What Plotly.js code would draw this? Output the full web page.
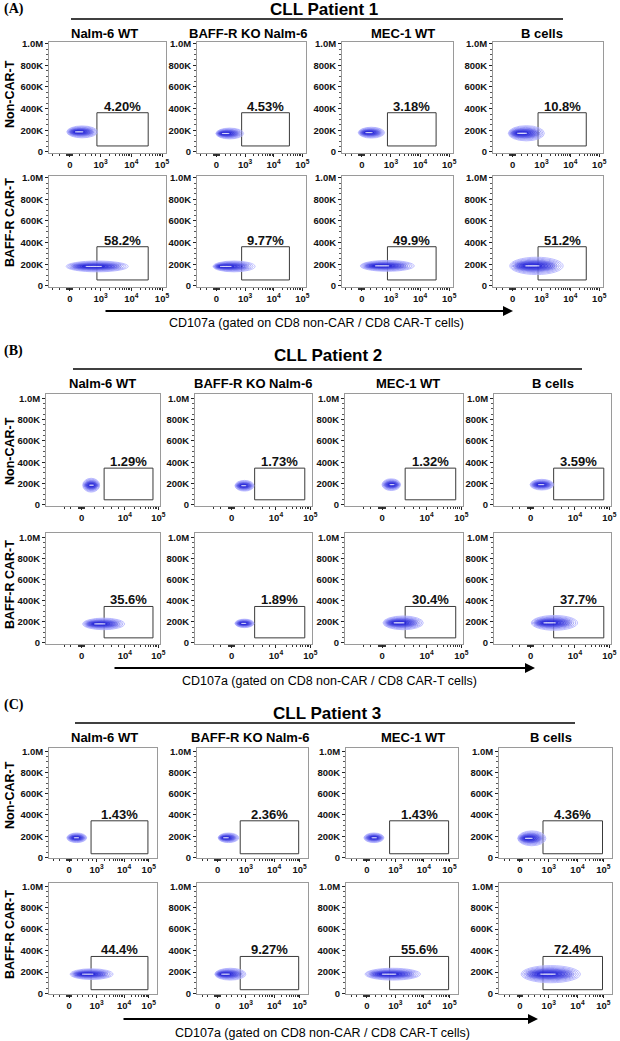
<!DOCTYPE html>
<html><head><meta charset="utf-8">
<script src="https://cdn.plot.ly/plotly-3.0.1.min.js"></script>
<style>html,body{margin:0;padding:0;background:#fff;}#chart{width:620px;height:1041px;}</style>
</head><body><div id="chart"></div>
<script>
// ================= DATA =================
const panelLetters = ['(A)', '(B)', '(C)'];
const patientTitles = ['CLL Patient 1', 'CLL Patient 2', 'CLL Patient 3'];
const targetCells = ['Nalm-6 WT', 'BAFF-R KO Nalm-6', 'MEC-1 WT', 'B cells'];
const effectorRows = ['Non-CAR-T', 'BAFF-R CAR-T'];
const axisLabel = 'CD107a (gated on CD8 non-CAR / CD8 CAR-T cells)';

const yTickVals = [0, 200000, 400000, 600000, 800000, 1000000];
const yTickText = ['0', '200K', '400K', '600K', '800K', '1.0M'];

// x axis (biexponential display units)
const xTickValsA = [0, 1, 2, 3];
const xTickTextA = ['0', '10<sup>3</sup>', '10<sup>4</sup>', '10<sup>5</sup>'];
const xTickValsB = [0, 1.35, 2.4];
const xTickTextB = ['0', '10<sup>4</sup>', '10<sup>5</sup>'];
const xTickValsC = [0, 1, 2, 2.9];
const xTickTextC = ['0', '10<sup>3</sup>', '10<sup>4</sup>', '10<sup>5</sup>'];

// gated percentages [row][column]
const pctA = [['4.20%', '4.53%', '3.18%', '10.8%'], ['58.2%', '9.77%', '49.9%', '51.2%']];
const pctB = [['1.29%', '1.73%', '1.32%', '3.59%'], ['35.6%', '1.89%', '30.4%', '37.7%']];
const pctC = [['1.43%', '2.36%', '1.43%', '4.36%'], ['44.4%', '9.27%', '55.6%', '72.4%']];

// CD107a+ gate [x0, x1, y0, y1]
const gateA = [0.88, 2.55, 55000, 362000];
const gateB = [0.70, 2.23, 48000, 345000];
const gateC = [0.80, 2.87, 35000, 345000];

// population contour: [mode x, left x, right x, centre y, half height]
const blobsA = [
  [[0.25, -0.10, 0.90, 185000, 55000], [0.25, -0.02, 0.95, 170000, 50000], [0.20, -0.12, 0.78, 178000, 50000], [0.25, -0.15, 1.10, 172000, 70000]],
  [[0.70, -0.12, 1.90, 180000, 50000], [0.20, -0.12, 1.35, 180000, 50000], [0.60, -0.05, 1.80, 185000, 50000], [0.60, -0.10, 1.75, 185000, 80000]]
];
const blobsB = [
  [[0.30, 0.03, 0.56, 185000, 65000], [0.35, 0.10, 0.68, 180000, 50000], [0.30, 0.00, 0.56, 190000, 55000], [0.30, -0.02, 0.70, 190000, 50000]],
  [[0.50, 0.03, 1.34, 180000, 55000], [0.35, 0.10, 0.68, 185000, 40000], [0.45, 0.03, 1.25, 190000, 65000], [0.50, 0.02, 1.43, 190000, 70000]]
];
const blobsC = [
  [[0.25, -0.08, 0.64, 185000, 45000], [0.25, 0.02, 0.75, 185000, 45000], [0.25, -0.10, 0.60, 185000, 45000], [0.25, -0.08, 0.90, 180000, 70000]],
  [[0.60, 0.04, 1.60, 180000, 50000], [0.20, -0.10, 1.00, 180000, 55000], [0.70, -0.06, 1.88, 180000, 55000], [0.90, 0.04, 2.10, 180000, 80000]]
];

// ================= LAYOUT GEOMETRY (pixels) =================
const W = 620, H = 1041;
const geom = [
  {letterY: 9, titleX: 324, titleY: 9, lineY: 19, lineX: [71, 563], headerY: 33, headerX: [105, 247.5, 402.5, 541.7],
   rows: [[42, 153], [176, 287]], cols: [[49, 166], [197, 306], [342, 453], [493, 603]], rowLabelY: [94, 223],
   arrowY: 311, arrowX: [104, 513], labelX: 317, labelY: 323, xr: [-0.68, 3.13], yr: [-10000, 1015000]},
  {letterY: 351, titleX: 328, titleY: 355, lineY: 369, lineX: [73, 582], headerY: 383, headerX: [102.5, 252.5, 408, 552.5],
   rows: [[394, 506], [533, 644]], cols: [[46, 160], [195, 312], [345, 463], [494, 611]], rowLabelY: [451, 585],
   arrowY: 668, arrowX: [113, 535], labelX: 329, labelY: 681, xr: [-1.12, 2.45], yr: [-10000, 1040000]},
  {letterY: 705, titleX: 327, titleY: 713, lineY: 723, lineX: [75, 575], headerY: 737, headerX: [105, 250, 412.7, 550.8],
   rows: [[748, 858], [883, 994]], cols: [[49, 157], [197, 308], [346, 458], [499, 612]], rowLabelY: [795, 935],
   arrowY: 1019, arrowX: [122, 538], labelX: 322, labelY: 1033, xr: [-0.73, 3.2], yr: [-5000, 1030000]}
];

const panelData = [
  {tv: xTickValsA, tt: xTickTextA, pct: pctA, gate: gateA, blobs: blobsA},
  {tv: xTickValsB, tt: xTickTextB, pct: pctB, gate: gateB, blobs: blobsB},
  {tv: xTickValsC, tt: xTickTextC, pct: pctC, gate: gateC, blobs: blobsC}
];

const FONT = 'Arial, "Liberation Sans", Helvetica, sans-serif';
const px = p => p / W;
const py = p => 1 - p / H;

// minor tick positions for the biexponential axis
function minorTicks(tv) {
  const m = [-0.1, -0.075, -0.05, -0.025, 0.025, 0.05, 0.075, 0.1, -0.35, -0.55];
  const first = tv[1];
  [0.3, 0.5, 0.7, 0.85].forEach(f => m.push(first * f));
  for (let i = 1; i < tv.length - 1; i++) {
    const a = tv[i], b = tv[i + 1];
    for (let k = 2; k <= 9; k++) m.push(a + (b - a) * Math.log10(k));
  }
  return m;
}

// contour ring styling
const ringSX = [1, 0.94, 0.88, 0.82, 0.76, 0.70, 0.63, 0.55, 0.46, 0.36];
const ringSY = [1, 0.88, 0.77, 0.67, 0.58, 0.50, 0.42, 0.34, 0.26, 0.18];
const cOut = [175, 175, 255], cIn = [35, 35, 215];
function ringColor(i) {
  const t = i / (ringSX.length - 1);
  const c = cOut.map((v, j) => Math.round(v + (cIn[j] - v) * t));
  return 'rgb(' + c.join(',') + ')';
}

const traces = [], shapes = [], annotations = [];
const layout = {
  width: W, height: H, margin: {l: 0, r: 0, t: 0, b: 0},
  paper_bgcolor: '#fff', plot_bgcolor: '#fff', showlegend: false,
  font: {family: FONT, color: '#000'}
};

panelData.forEach((pd, p) => {
  const g = geom[p];
  annotations.push({xref: 'paper', yref: 'paper', x: px(2), y: py(g.letterY), xanchor: 'left', yanchor: 'middle',
    text: panelLetters[p], showarrow: false, font: {family: '"Liberation Serif", "Times New Roman", serif', size: 14, weight: 'bold', color: '#000'}});
  annotations.push({xref: 'paper', yref: 'paper', x: px(g.titleX), y: py(g.titleY), xanchor: 'center', yanchor: 'middle',
    text: patientTitles[p], showarrow: false, font: {family: FONT, size: 17, weight: 'bold', color: '#000'}});
  shapes.push({type: 'line', xref: 'paper', yref: 'paper', x0: px(g.lineX[0]), x1: px(g.lineX[1]), y0: py(g.lineY), y1: py(g.lineY),
    line: {color: '#000', width: 1.5}});
  targetCells.forEach((t, c) => annotations.push({xref: 'paper', yref: 'paper', x: px(g.headerX[c]), y: py(g.headerY),
    xanchor: 'center', yanchor: 'middle', text: t, showarrow: false, font: {family: FONT, size: 13, weight: 'bold', color: '#000'}}));
  effectorRows.forEach((t, r) => annotations.push({xref: 'paper', yref: 'paper', x: px(10), y: py(g.rowLabelY[r]),
    xanchor: 'center', yanchor: 'middle', textangle: -90, text: t, showarrow: false,
    font: {family: FONT, size: 12.5, weight: 'bold', color: '#000'}}));
  annotations.push({xref: 'paper', yref: 'paper', x: px(g.arrowX[1]), y: py(g.arrowY), ax: -(g.arrowX[1] - g.arrowX[0]), ay: 0,
    axref: 'pixel', ayref: 'pixel', text: '', showarrow: true, arrowhead: 2, arrowsize: 1, arrowwidth: 2, arrowcolor: '#000'});
  annotations.push({xref: 'paper', yref: 'paper', x: px(g.labelX), y: py(g.labelY), xanchor: 'center', yanchor: 'middle',
    text: axisLabel, showarrow: false, font: {family: FONT, size: 12.5, color: '#000'}});

  const mt = minorTicks(pd.tv);
  for (let r = 0; r < 2; r++) {
    for (let c = 0; c < 4; c++) {
      const k = p * 8 + r * 4 + c + 1;
      const xn = 'xaxis' + (k === 1 ? '' : k), yn = 'yaxis' + (k === 1 ? '' : k);
      const xr = 'x' + (k === 1 ? '' : k), yr = 'y' + (k === 1 ? '' : k);
      layout[xn] = {
        domain: [px(g.cols[c][0]), px(g.cols[c][1])], anchor: yr, range: g.xr, autorange: false, fixedrange: true,
        tickmode: 'array', tickvals: pd.tv, ticktext: pd.tt, ticks: 'outside', ticklen: 3, tickcolor: '#222',
        tickfont: {family: FONT, size: 9.5, weight: 'bold', color: '#111'},
        showline: true, linecolor: '#9a9a9a', linewidth: 1, mirror: true, showgrid: false, zeroline: false,
        minor: {tickmode: 'array', tickvals: mt, ticks: 'outside', ticklen: 2, tickcolor: '#333', showgrid: false}
      };
      layout[yn] = {
        domain: [py(g.rows[r][1]), py(g.rows[r][0])], anchor: xr, range: g.yr, autorange: false, fixedrange: true,
        tickmode: 'array', tickvals: yTickVals, ticktext: yTickText, ticks: 'outside', ticklen: 3, tickcolor: '#222',
        tickfont: {family: FONT, size: 9.5, weight: 'bold', color: '#111'},
        showline: true, linecolor: '#9a9a9a', linewidth: 1, mirror: true, showgrid: false, zeroline: false,
        minor: {dtick: 50000, ticks: 'outside', ticklen: 2, tickcolor: '#555', showgrid: false}
      };
      const gt = pd.gate;
      traces.push({type: 'scatter', mode: 'lines', xaxis: xr, yaxis: yr, hoverinfo: 'skip',
        x: [gt[0], gt[1], gt[1], gt[0], gt[0]], y: [gt[2], gt[2], gt[3], gt[3], gt[2]],
        line: {color: '#3a3a3a', width: 1}});
      annotations.push({xref: xr, yref: yr, x: (gt[0] + gt[1]) / 2, y: gt[3], xanchor: 'center', yanchor: 'bottom', yshift: -3,
        text: pd.pct[r][c], showarrow: false, font: {family: FONT, size: 13, weight: 'bold', color: '#111'}});
      const b = pd.blobs[r][c];
      const mx = b[0], xl = b[1], xh = b[2], cy = b[3], hy = b[4];
      ringSX.forEach((sx, i) => {
        const sy = ringSY[i];
        shapes.push({type: 'circle', xref: xr, yref: yr, layer: 'above',
          x0: mx - (mx - xl) * sx, x1: mx + (xh - mx) * sx, y0: cy - hy * sy, y1: cy + hy * sy,
          line: {color: ringColor(i), width: 0.8},
          fillcolor: i >= 3 ? 'rgba(45,45,225,0.22)' : 'rgba(0,0,0,0)'});
      });
      shapes.push({type: 'circle', xref: xr, yref: yr, layer: 'above',
        x0: mx - (mx - xl) * 0.22, x1: mx + (xh - mx) * 0.28, y0: cy - hy * 0.025, y1: cy + hy * 0.025,
        line: {color: 'rgba(255,255,255,0.85)', width: 0.6}, fillcolor: 'rgba(255,255,255,0.85)'});
    }
  }
});

layout.shapes = shapes;
layout.annotations = annotations;
Plotly.newPlot('chart', traces, layout, {staticPlot: true, displayModeBar: false});
</script>
</body></html>
